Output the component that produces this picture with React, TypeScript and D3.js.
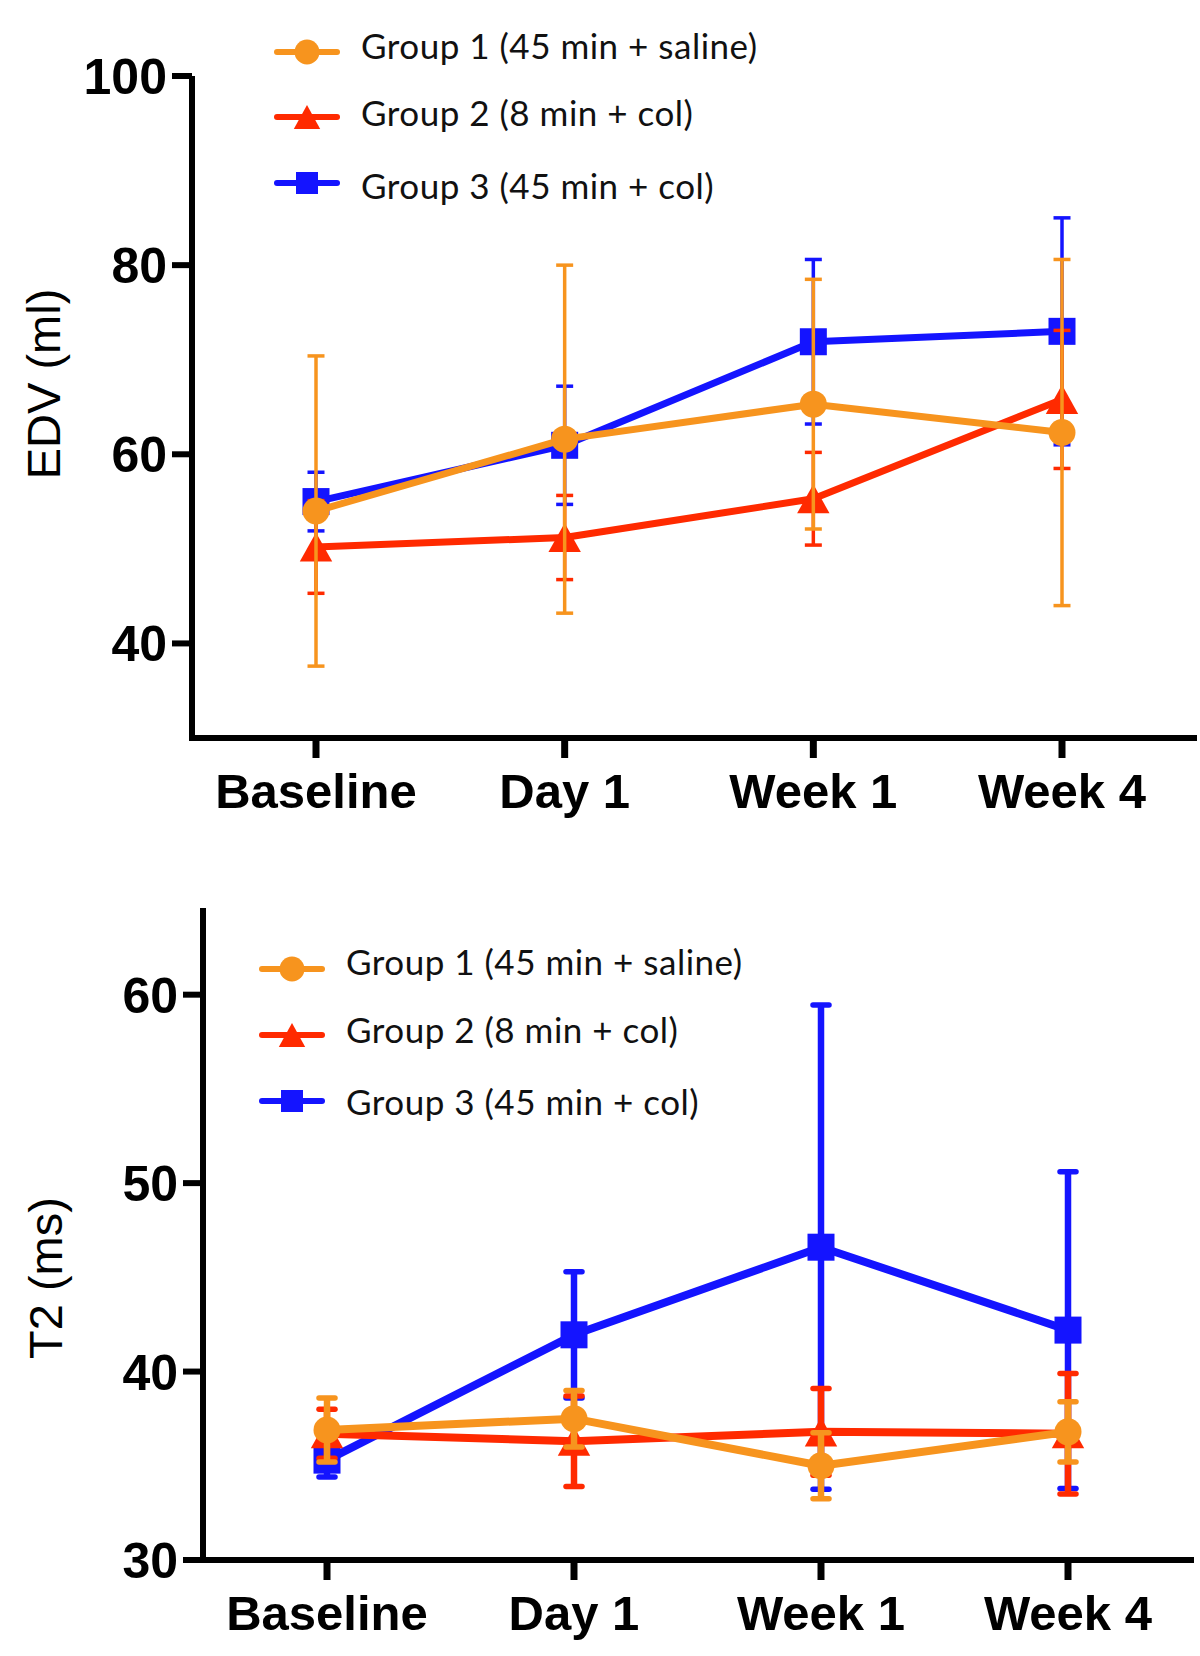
import { useRef, useEffect } from 'react';
import * as d3 from 'd3';

const TIMEPOINTS = ["Baseline", "Day 1", "Week 1", "Week 4"];
const GROUP_NAMES = ["Group 1 (45 min + saline)", "Group 2 (8 min + col)", "Group 3 (45 min + col)"];
const GROUP_COLORS = ["#F7941E", "#FF2A00", "#1414FF"];
const GROUP_SYMBOLS = ["circle", "triangle", "square"];

// EDV (ml): mean and SD per time point
const EDV_G1 = [54.0, 61.6, 65.3, 62.3];
const EDV_G1_SD = [16.4, 18.4, 13.2, 18.3];
const EDV_G2 = [50.2, 51.2, 55.3, 65.8];
const EDV_G2_SD = [4.9, 4.45, 4.9, 7.3];
const EDV_G3 = [55.0, 60.95, 71.9, 73.0];
const EDV_G3_SD = [3.1, 6.25, 8.7, 12.0];
const EDV_TICKS = [40, 60, 80, 100];

// T2 (ms): mean and SD per time point
const T2_G1 = [36.9, 37.5, 35.0, 36.8];
const T2_G1_SD = [1.7, 1.5, 1.75, 1.6];
const T2_G2 = [36.7, 36.3, 36.8, 36.7];
const T2_G2_SD = [1.3, 2.4, 2.3, 3.2];
const T2_G3 = [35.3, 41.95, 46.6, 42.2];
const T2_G3_SD = [0.9, 3.35, 12.85, 8.4];
const T2_TICKS = [30, 40, 50, 60];

const TICK_FONT = "'Liberation Sans', Arial, sans-serif";
const LEGEND_FONT = "Lato, 'Open Sans', sans-serif";

function drawSymbol(g, type, cx, cy, s, color) {
  if (type === "circle") {
    g.append("circle").attr("cx", cx).attr("cy", cy).attr("r", s / 2).attr("fill", color);
  } else if (type === "square") {
    g.append("rect").attr("x", cx - s / 2).attr("y", cy - s / 2)
      .attr("width", s).attr("height", s).attr("fill", color);
  } else {
    const w = s * 1.2, h = s * 1.08;
    g.append("path")
      .attr("d", `M${cx},${cy - h / 2}L${cx + w / 2},${cy + h / 2}L${cx - w / 2},${cy + h / 2}Z`)
      .attr("fill", color);
  }
}

function drawPanel(svg, cfg) {
  const y = d3.scaleLinear().domain(cfg.yDomain).range(cfg.yRange);
  const x = d3.scalePoint().domain(TIMEPOINTS).range(cfg.xRange);
  const g = svg.append("g");
  const axisY = cfg.yRange[0];

  // axes
  g.append("line")
    .attr("x1", cfg.axisX).attr("x2", cfg.axisX)
    .attr("y1", cfg.yRange[1]).attr("y2", axisY + 3)
    .attr("stroke", "#000").attr("stroke-width", 6);
  g.append("line")
    .attr("x1", cfg.axisX - 3).attr("x2", cfg.xEnd)
    .attr("y1", axisY).attr("y2", axisY)
    .attr("stroke", "#000").attr("stroke-width", 6);

  cfg.ticks.forEach(t => {
    g.append("line")
      .attr("x1", cfg.axisX - 20).attr("x2", cfg.axisX)
      .attr("y1", y(t)).attr("y2", y(t))
      .attr("stroke", "#000").attr("stroke-width", 6);
    g.append("text")
      .attr("x", cfg.axisX - 25).attr("y", y(t) + 18)
      .attr("text-anchor", "end")
      .style("font-family", TICK_FONT).style("font-weight", "bold").style("font-size", "50px")
      .text(t);
  });

  TIMEPOINTS.forEach(c => {
    g.append("line")
      .attr("x1", x(c)).attr("x2", x(c))
      .attr("y1", axisY).attr("y2", axisY + 20)
      .attr("stroke", "#000").attr("stroke-width", 7);
    g.append("text")
      .attr("x", x(c)).attr("y", axisY + 70)
      .attr("text-anchor", "middle")
      .style("font-family", TICK_FONT).style("font-weight", "bold").style("font-size", "49px")
      .text(c);
  });

  g.append("text")
    .attr("transform", `translate(${cfg.titleX},${cfg.titleY}) rotate(-90)`)
    .attr("text-anchor", "middle").attr("dy", "0.35em")
    .style("font-family", TICK_FONT).style("font-size", "47px")
    .text(cfg.title);

  // series: blue first, orange on top
  const line = d3.line().x((d, i) => x(TIMEPOINTS[i])).y(d => y(d));
  [2, 1, 0].forEach(k => {
    const means = cfg.means[k], sds = cfg.sds[k], color = GROUP_COLORS[k];
    const sg = g.append("g");
    sg.append("path").datum(means).attr("d", line)
      .attr("fill", "none").attr("stroke", color).attr("stroke-width", cfg.lineW)
      .attr("stroke-linejoin", "round");
    means.forEach((m, i) => {
      const cx = x(TIMEPOINTS[i]);
      const lo = y(m - sds[i]), hi = y(m + sds[i]);
      sg.append("line").attr("x1", cx).attr("x2", cx).attr("y1", lo).attr("y2", hi)
        .attr("stroke", color).attr("stroke-width", cfg.errW);
      [lo, hi].forEach(yy => {
        sg.append("line")
          .attr("x1", cx - cfg.capW / 2).attr("x2", cx + cfg.capW / 2)
          .attr("y1", yy).attr("y2", yy)
          .attr("stroke", color).attr("stroke-width", cfg.capStroke)
          .attr("stroke-linecap", cfg.capRound ? "round" : "butt");
      });
    });
    means.forEach((m, i) => drawSymbol(sg, GROUP_SYMBOLS[k], x(TIMEPOINTS[i]), y(m), 27, color));
  });

  // legend
  GROUP_NAMES.forEach((name, k) => {
    const ly = cfg.legendRows[k];
    const lg = g.append("g");
    lg.append("line")
      .attr("x1", cfg.legendX - 30).attr("x2", cfg.legendX + 30)
      .attr("y1", ly).attr("y2", ly)
      .attr("stroke", GROUP_COLORS[k]).attr("stroke-width", 6).attr("stroke-linecap", "round");
    drawSymbol(lg, GROUP_SYMBOLS[k], cfg.legendX, ly, k === 0 ? 25 : 22, GROUP_COLORS[k]);
    lg.append("text")
      .attr("x", cfg.legendX + 54).attr("y", cfg.legendText[k])
      .style("font-family", LEGEND_FONT).style("font-size", "35px")
      .style("letter-spacing", "0.5px").style("fill", "#111")
      .text(name);
  });
}

function App() {
  const svgRef = useRef(null);

  useEffect(() => {
    const svg = d3.select(svgRef.current);
    svg.selectAll("*").remove();

    drawPanel(svg, {
      yDomain: [30, 100], yRange: [738, 76], xRange: [316, 1062],
      axisX: 192, xEnd: 1197, ticks: EDV_TICKS,
      title: "EDV (ml)", titleX: 44, titleY: 384,
      means: [EDV_G1, EDV_G2, EDV_G3], sds: [EDV_G1_SD, EDV_G2_SD, EDV_G3_SD],
      lineW: 7, errW: 3.5, capW: 17, capStroke: 3.5, capRound: false,
      legendX: 307, legendRows: [52, 117, 183], legendText: [59, 126, 199]
    });

    drawPanel(svg, {
      yDomain: [30, 64.6], yRange: [1560, 908], xRange: [327, 1068],
      axisX: 203, xEnd: 1194, ticks: T2_TICKS,
      title: "T2 (ms)", titleX: 46, titleY: 1278,
      means: [T2_G1, T2_G2, T2_G3], sds: [T2_G1_SD, T2_G2_SD, T2_G3_SD],
      lineW: 8, errW: 6.5, capW: 16, capStroke: 5.5, capRound: true,
      legendX: 292, legendRows: [969, 1035, 1101], legendText: [975, 1043, 1115]
    });
  }, []);

  return (
    <svg ref={svgRef} width={1200} height={1656}
      style={{ position: "absolute", left: 0, top: 0, background: "#fff" }} />
  );
}

export default App;
